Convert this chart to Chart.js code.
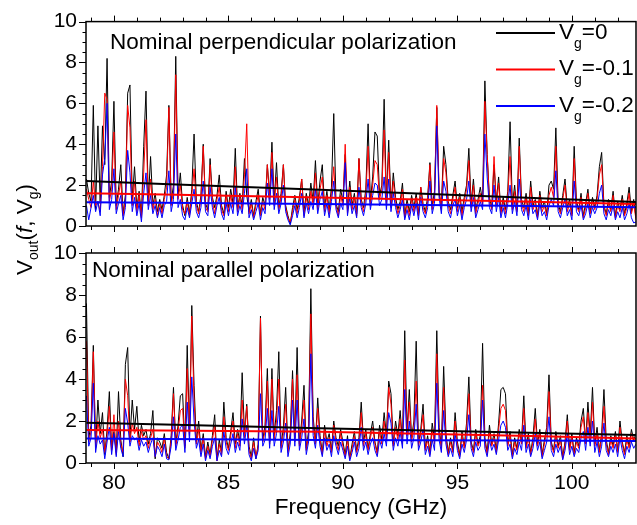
<!DOCTYPE html>
<html>
<head>
<meta charset="utf-8">
<script src="https://cdn.jsdelivr.net/npm/chart.js@4.4.1/dist/chart.umd.min.js"></script>
<style>
html, body { margin: 0; padding: 0; background: #fff; }
#wrap { position: relative; width: 637px; height: 525px; }
#wrap canvas { position: absolute; left: 0; top: 0; }
</style>
</head>
<body>
<div id="wrap">
  <canvas id="topChart" width="637" height="525"></canvas>
  <canvas id="bottomChart" width="637" height="525"></canvas>
</div>
<script>
var FONT = '"Liberation Sans", Arial, sans-serif';

var xTicks = [80, 85, 90, 95, 100];
var yTicks = [0, 2, 4, 6, 8, 10];
var gateVoltages = ["0", "-0.1", "-0.2"];
var seriesColors = ["#000000", "#ff0000", "#0000ff"];
var panelTitles = ["Nominal perpendicular polarization", "Nominal parallel polarization"];

// frequency sweep (GHz), one row per GHz
var freqs = [
  78.8, 78.9,
  79.0, 79.1, 79.2, 79.3, 79.4, 79.5, 79.6, 79.7, 79.8, 79.9,
  80.0, 80.1, 80.2, 80.3, 80.4, 80.5, 80.6, 80.7, 80.8, 80.9,
  81.0, 81.1, 81.2, 81.3, 81.4, 81.5, 81.6, 81.7, 81.8, 81.9,
  82.0, 82.1, 82.2, 82.3, 82.4, 82.5, 82.6, 82.7, 82.8, 82.9,
  83.0, 83.1, 83.2, 83.3, 83.4, 83.5, 83.6, 83.7, 83.8, 83.9,
  84.0, 84.1, 84.2, 84.3, 84.4, 84.5, 84.6, 84.7, 84.8, 84.9,
  85.0, 85.1, 85.2, 85.3, 85.4, 85.5, 85.6, 85.7, 85.8, 85.9,
  86.0, 86.1, 86.2, 86.3, 86.4, 86.5, 86.6, 86.7, 86.8, 86.9,
  87.0, 87.1, 87.2, 87.3, 87.4, 87.5, 87.6, 87.7, 87.8, 87.9,
  88.0, 88.1, 88.2, 88.3, 88.4, 88.5, 88.6, 88.7, 88.8, 88.9,
  89.0, 89.1, 89.2, 89.3, 89.4, 89.5, 89.6, 89.7, 89.8, 89.9,
  90.0, 90.1, 90.2, 90.3, 90.4, 90.5, 90.6, 90.7, 90.8, 90.9,
  91.0, 91.1, 91.2, 91.3, 91.4, 91.5, 91.6, 91.7, 91.8, 91.9,
  92.0, 92.1, 92.2, 92.3, 92.4, 92.5, 92.6, 92.7, 92.8, 92.9,
  93.0, 93.1, 93.2, 93.3, 93.4, 93.5, 93.6, 93.7, 93.8, 93.9,
  94.0, 94.1, 94.2, 94.3, 94.4, 94.5, 94.6, 94.7, 94.8, 94.9,
  95.0, 95.1, 95.2, 95.3, 95.4, 95.5, 95.6, 95.7, 95.8, 95.9,
  96.0, 96.1, 96.2, 96.3, 96.4, 96.5, 96.6, 96.7, 96.8, 96.9,
  97.0, 97.1, 97.2, 97.3, 97.4, 97.5, 97.6, 97.7, 97.8, 97.9,
  98.0, 98.1, 98.2, 98.3, 98.4, 98.5, 98.6, 98.7, 98.8, 98.9,
  99.0, 99.1, 99.2, 99.3, 99.4, 99.5, 99.6, 99.7, 99.8, 99.9,
  100.0, 100.1, 100.2, 100.3, 100.4, 100.5, 100.6, 100.7, 100.8, 100.9,
  101.0, 101.1, 101.2, 101.3, 101.4, 101.5, 101.6, 101.7, 101.8, 101.9,
  102.0, 102.1, 102.2, 102.3, 102.4, 102.5, 102.6, 102.7, 102.8
];

// perpendicular polarization
var perpVg0 = [
  2.3, 1.6,
  1.2, 5.9, 0.8, 4.9, 1.1, 4.9, 3.0, 8.2, 1.4, 2.2,
  6.1, 1.0, 1.8, 3.0, 0.6, 1.5, 6.5, 6.9, 1.3, 2.9,
  0.9, 1.7, 0.5, 3.9, 6.6, 1.2, 3.4, 1.0, 1.6, 0.7,
  1.3, 0.8, 1.5, 2.5, 5.9, 1.2, 2.0, 8.3, 1.5, 2.6,
  1.0, 0.5, 1.4, 0.6, 1.8, 4.5, 1.2, 0.7, 1.5, 4.0,
  1.1, 0.8, 3.3, 1.4, 0.9, 1.5, 2.5, 1.0, 0.6, 1.7,
  0.9, 1.8, 1.1, 3.8, 0.8, 1.6, 1.0, 3.3, 1.5, 0.7,
  1.3, 0.5, 1.2, 1.8, 0.6, 1.4, 1.0, 3.0, 1.5, 4.1,
  1.2, 3.1, 0.9, 1.6, 3.0, 1.0, 0.5, 0.1, 0.9, 1.5,
  0.8, 1.4, 2.3, 0.7, 1.6, 1.0, 2.1, 1.2, 3.2, 1.0,
  2.2, 3.0, 0.9, 1.7, 0.8, 1.9, 5.5, 1.1, 0.7, 1.8,
  1.2, 3.5, 0.8, 2.2, 1.0, 1.6, 0.6, 3.3, 1.3, 0.9,
  1.8, 5.0, 1.2, 2.4, 4.6, 4.4, 1.5, 2.0, 6.2, 1.3,
  4.2, 1.0, 2.6, 1.4, 0.8, 1.2, 2.1, 0.5, 1.3, 0.7,
  1.5, 0.9, 1.6, 0.6, 1.9, 1.1, 0.7, 1.4, 3.1, 1.0,
  1.7, 5.8, 1.6, 1.0, 3.9, 3.0, 1.2, 0.8, 1.5, 2.2,
  0.9, 1.6, 0.7, 1.4, 2.0, 3.8, 1.1, 2.3, 0.8, 1.3,
  1.9, 1.2, 7.1, 3.5, 1.4, 0.9, 3.0, 1.2, 2.4, 0.7,
  1.4, 0.8, 1.7, 5.1, 1.0, 2.0, 0.8, 4.3, 1.3, 0.9,
  1.6, 0.6, 2.2, 1.0, 1.3, 0.5, 1.7, 0.9, 1.2, 0.6,
  2.0, 2.2, 1.8, 4.8, 1.1, 0.7, 1.5, 2.3, 0.9, 1.3,
  0.6, 3.9, 1.2, 0.8, 1.6, 0.5, 1.1, 1.8, 0.7, 1.4,
  0.9, 1.5, 2.9, 3.6, 1.0, 0.6, 1.3, 0.8, 1.7, 0.5,
  1.2, 0.8, 1.5, 0.6, 1.1, 1.9, 0.7, 1.3, 0.4
];
var perpVg01 = [
  1.8, 1.3,
  0.9, 2.2, 1.0, 1.2, 0.7, 2.9, 6.5, 6.2, 1.2, 1.8,
  4.6, 0.8, 1.5, 2.2, 0.5, 1.2, 5.9, 4.8, 1.0, 2.2,
  0.7, 1.5, 0.4, 2.6, 5.2, 1.0, 2.3, 0.8, 1.3, 0.5,
  1.1, 0.6, 1.3, 1.9, 5.8, 1.0, 1.7, 7.4, 1.3, 2.0,
  0.8, 0.6, 1.2, 0.5, 1.5, 2.8, 1.0, 0.6, 1.3, 3.9,
  0.9, 0.7, 3.0, 1.2, 0.6, 1.3, 1.9, 0.8, 0.5, 1.5,
  0.7, 1.5, 0.9, 2.9, 0.7, 1.4, 0.8, 2.5, 5.0, 0.6,
  1.1, 0.4, 1.0, 1.5, 0.5, 1.2, 0.8, 3.0, 1.3, 3.6,
  1.0, 2.4, 0.8, 1.4, 3.0, 0.9, 0.4, 0.2, 0.7, 1.3,
  0.6, 1.2, 2.3, 0.5, 1.4, 0.8, 1.7, 1.0, 2.6, 0.8,
  1.8, 2.4, 0.7, 1.5, 0.6, 1.6, 2.9, 1.0, 0.5, 1.5,
  1.0, 4.0, 0.6, 1.9, 0.8, 1.4, 0.5, 3.3, 1.1, 0.7,
  1.5, 3.9, 1.0, 2.0, 3.2, 3.0, 1.3, 1.8, 4.7, 1.1,
  3.6, 0.9, 2.2, 1.2, 0.6, 1.0, 1.8, 0.4, 1.1, 0.5,
  1.3, 0.7, 1.4, 0.5, 1.9, 0.9, 0.6, 1.2, 3.0, 0.8,
  1.5, 5.9, 1.8, 0.8, 3.3, 2.6, 1.0, 0.6, 1.3, 1.9,
  0.7, 1.4, 0.5, 1.2, 1.8, 3.2, 0.9, 2.0, 0.6, 1.1,
  1.6, 1.0, 6.1, 3.5, 1.2, 0.8, 3.4, 1.0, 2.1, 0.6,
  1.2, 0.6, 1.5, 3.4, 0.8, 1.7, 0.7, 3.9, 1.1, 0.7,
  1.4, 0.5, 1.9, 0.8, 1.1, 0.4, 1.5, 0.7, 1.0, 0.5,
  1.5, 1.9, 1.4, 3.9, 0.9, 0.6, 1.3, 2.0, 0.7, 1.1,
  0.5, 3.3, 1.0, 0.7, 1.4, 0.4, 0.9, 1.6, 0.6, 1.2,
  0.8, 1.3, 2.5, 3.0, 0.9, 0.5, 1.1, 0.7, 1.5, 0.4,
  1.0, 0.7, 1.3, 0.5, 0.9, 1.6, 0.6, 1.1, 0.3
];
var perpVg02 = [
  1.0, 0.3,
  0.9, 1.5, 0.7, 1.2, 0.5, 2.5, 3.3, 6.0, 0.8, 1.3,
  2.8, 0.6, 1.1, 1.5, 0.3, 0.9, 3.7, 2.6, 0.7, 1.4,
  0.5, 1.1, 0.2, 1.6, 2.6, 0.8, 1.5, 0.6, 1.0, 0.4,
  0.9, 0.4, 1.0, 1.2, 2.7, 0.7, 1.3, 4.5, 0.9, 1.3,
  0.5, 0.3, 0.9, 0.4, 1.1, 1.8, 0.7, 0.4, 0.9, 2.2,
  0.7, 0.5, 1.9, 0.9, 0.4, 1.0, 1.4, 0.6, 0.3, 1.1,
  0.5, 1.1, 0.6, 1.9, 0.5, 1.0, 0.6, 1.6, 2.8, 0.4,
  0.8, 0.3, 0.7, 1.1, 0.3, 0.9, 0.6, 2.1, 1.0, 2.8,
  0.8, 1.6, 0.6, 1.1, 2.0, 0.7, 0.3, 0.05, 0.5, 1.0,
  0.4, 0.9, 1.6, 0.4, 1.1, 0.6, 1.2, 0.8, 1.8, 0.6,
  1.3, 1.7, 0.5, 1.1, 0.4, 1.2, 2.2, 0.8, 0.4, 1.1,
  0.8, 3.1, 0.5, 1.4, 0.6, 1.0, 0.4, 1.9, 0.9, 0.5,
  1.1, 2.3, 0.8, 1.5, 2.1, 2.0, 1.0, 1.3, 2.4, 0.8,
  2.3, 0.7, 1.6, 0.9, 0.4, 0.8, 1.3, 0.3, 0.8, 0.3,
  1.0, 0.5, 1.1, 0.3, 1.4, 0.7, 0.4, 0.9, 2.2, 0.6,
  1.1, 4.9, 1.4, 0.6, 2.2, 1.7, 0.7, 0.4, 1.0, 1.3,
  0.5, 1.0, 0.3, 0.9, 1.3, 2.2, 0.7, 1.4, 0.4, 0.8,
  1.2, 0.8, 4.5, 2.4, 0.9, 0.6, 2.0, 0.7, 1.4, 0.4,
  0.9, 0.4, 1.1, 2.0, 0.6, 1.2, 0.5, 2.3, 0.8, 0.5,
  1.0, 0.3, 1.3, 0.6, 0.8, 0.3, 1.1, 0.5, 0.7, 0.3,
  1.0, 1.3, 1.0, 2.7, 0.7, 0.4, 0.9, 1.3, 0.5, 0.8,
  0.3, 2.2, 0.7, 0.5, 1.0, 0.3, 0.6, 1.1, 0.4, 0.9,
  0.6, 0.9, 1.6, 2.0, 0.6, 0.3, 0.8, 0.5, 1.0, 0.3,
  0.7, 0.4, 0.9, 0.3, 0.6, 1.1, 0.4, 0.15, 0.2
];

// parallel polarization
var paraVg0 = [
  7.6, 1.2,
  1.8, 5.6, 0.8, 3.0, 1.4, 2.4, 0.4, 1.6, 3.4, 0.7,
  1.5, 0.5, 3.4, 1.1, 0.3, 4.7, 5.5, 1.2, 3.0, 1.6,
  2.7, 1.0, 1.8, 1.3, 1.6, 0.9, 1.4, 2.5, 0.2, 1.2,
  1.0, 0.7, 1.4, 0.5, 0.2, 1.3, 3.6, 0.9, 1.8, 3.2,
  3.3, 0.8, 5.6, 1.5, 7.5, 3.7, 1.0, 2.0, 0.6, 1.4,
  0.3, 1.0, 0.4, 1.3, 2.3, 0.2, 1.1, 0.5, 2.9, 1.2,
  0.7, 1.5, 2.4, 0.9, 1.6, 1.0, 4.3, 1.4, 2.8, 0.8,
  0.3, 1.2, 0.2, 0.9, 7.0, 1.1, 1.8, 4.5, 1.0, 4.5,
  1.3, 2.5, 5.3, 0.8, 1.7, 3.6, 0.6, 1.4, 4.4, 1.2,
  5.5, 0.9, 2.0, 3.7, 0.7, 1.5, 8.3, 2.2, 1.0, 3.1,
  1.3, 0.5, 1.8, 1.0, 1.4, 0.6, 2.0, 1.2, 0.8, 1.6,
  1.0, 0.4, 1.3, 0.2, 0.9, 1.5, 0.6, 1.2, 2.9, 1.0,
  1.6, 0.7, 1.4, 2.0, 1.0, 0.5, 1.8, 1.1, 2.4, 1.3,
  3.9, 3.3, 0.9, 2.0, 1.3, 2.5, 1.0, 6.3, 1.5, 3.5,
  1.2, 2.0, 5.8, 0.9, 1.6, 2.8, 0.7, 1.3, 0.5, 1.9,
  1.1, 6.3, 1.7, 0.8, 4.6, 1.4, 0.5, 1.2, 0.6, 2.4,
  1.0, 0.4, 1.5, 0.8, 1.9, 4.1, 1.0, 0.6, 1.6, 0.9,
  1.3, 5.7, 1.2, 0.5, 1.8, 0.9, 1.4, 0.6, 1.9, 3.5,
  3.6, 3.3, 0.9, 1.5, 0.4, 1.2, 0.7, 1.6, 1.0, 3.2,
  0.8, 1.4, 0.5, 1.2, 2.6, 0.9, 1.6, 0.4, 1.1, 1.7,
  4.2, 1.0, 0.6, 1.5, 0.8, 1.3, 0.3, 1.0, 2.3, 0.7,
  1.4, 0.5, 1.2, 0.8, 2.0, 2.6, 1.0, 2.9, 1.3, 3.6,
  0.9, 1.7, 0.6, 1.4, 3.5, 1.1, 0.5, 1.3, 0.8, 1.5,
  0.6, 2.0, 1.0, 0.5, 1.3, 0.8, 1.6, 1.1, 1.4
];
var paraVg01 = [
  5.8, 1.0,
  1.5, 5.3, 0.7, 2.0, 1.2, 1.6, 0.5, 1.3, 2.7, 0.6,
  2.3, 0.4, 2.0, 0.9, 0.5, 4.0, 3.2, 1.0, 1.9, 1.4,
  1.7, 0.8, 1.5, 1.1, 1.3, 0.7, 1.2, 1.6, 0.3, 1.0,
  0.8, 0.5, 1.2, 0.3, 0.2, 1.1, 3.3, 0.8, 1.5, 2.5,
  2.6, 0.7, 4.5, 1.3, 7.0, 2.9, 0.9, 1.6, 0.5, 1.2,
  0.2, 0.8, 0.3, 1.1, 1.8, 0.1, 0.9, 0.4, 2.2, 1.0,
  0.6, 1.3, 2.0, 0.7, 1.4, 0.8, 3.0, 1.2, 2.7, 0.6,
  0.2, 1.0, 0.3, 0.8, 6.9, 1.0, 1.5, 3.9, 0.9, 4.0,
  1.1, 2.0, 4.0, 0.7, 1.4, 2.8, 0.5, 1.2, 4.0, 1.0,
  4.2, 0.8, 1.7, 3.0, 0.6, 1.3, 7.1, 1.8, 0.9, 2.6,
  1.1, 0.4, 1.6, 0.8, 1.2, 0.5, 1.8, 1.0, 0.6, 1.4,
  0.8, 0.3, 1.1, 0.2, 0.7, 1.3, 0.5, 1.0, 2.4, 0.8,
  1.4, 0.6, 1.2, 1.7, 0.9, 0.4, 1.5, 0.9, 2.0, 1.1,
  3.6, 2.8, 0.8, 1.7, 1.1, 2.1, 0.9, 4.9, 1.3, 2.9,
  1.0, 1.7, 3.9, 0.8, 1.4, 2.3, 0.6, 1.1, 0.4, 1.6,
  0.9, 5.2, 1.5, 0.7, 3.6, 1.2, 0.4, 1.0, 0.5, 2.0,
  0.8, 0.3, 1.3, 0.7, 1.6, 3.3, 0.9, 0.5, 1.4, 0.8,
  1.1, 3.7, 1.0, 0.4, 1.5, 0.8, 1.2, 0.5, 1.6, 2.6,
  2.8, 2.5, 0.8, 1.3, 0.3, 1.0, 0.6, 1.4, 0.9, 2.6,
  0.7, 1.2, 0.4, 1.0, 2.1, 0.8, 1.4, 0.3, 0.9, 1.5,
  3.4, 0.9, 0.5, 1.3, 0.7, 1.1, 0.2, 0.9, 2.0, 0.6,
  1.2, 0.4, 1.0, 0.7, 1.7, 2.2, 0.9, 2.4, 1.1, 2.9,
  0.8, 1.4, 0.5, 1.2, 2.7, 0.9, 0.4, 1.1, 0.7, 1.3,
  0.5, 1.7, 0.9, 0.4, 1.1, 0.7, 1.4, 1.0, 1.2
];
var paraVg02 = [
  3.2, 0.8,
  1.2, 3.8, 0.5, 1.3, 0.9, 1.1, 0.2, 1.0, 1.7, 0.4,
  1.4, 0.3, 1.5, 0.7, 0.3, 2.6, 1.9, 0.8, 1.3, 1.1,
  1.2, 0.6, 1.1, 0.8, 1.0, 0.5, 0.9, 1.2, 0.3, 0.8,
  0.6, 0.3, 0.9, 0.2, 0.15, 0.8, 2.2, 0.6, 1.1, 1.7,
  1.8, 0.5, 2.9, 1.0, 4.1, 2.0, 0.7, 1.1, 0.3, 0.9,
  0.1, 0.6, 0.2, 0.8, 1.2, 0.1, 0.6, 0.3, 1.5, 0.7,
  0.4, 0.9, 1.4, 0.5, 1.0, 0.6, 2.1, 0.9, 1.8, 0.4,
  0.1, 0.7, 0.2, 0.6, 3.3, 0.8, 1.1, 2.6, 0.7, 2.5,
  0.8, 1.4, 2.7, 0.5, 1.0, 1.9, 0.3, 0.9, 3.0, 0.8,
  3.0, 0.6, 1.2, 2.1, 0.4, 1.0, 5.2, 1.3, 0.7, 1.8,
  0.8, 0.3, 1.2, 0.6, 0.9, 0.3, 1.3, 0.8, 0.4, 1.0,
  0.6, 0.2, 0.8, 0.1, 0.5, 1.0, 0.3, 0.7, 1.7, 0.6,
  1.0, 0.4, 0.9, 1.2, 0.6, 0.3, 1.1, 0.7, 1.4, 0.8,
  2.4, 1.9, 0.6, 1.2, 0.8, 1.5, 0.7, 3.5, 0.9, 2.0,
  0.7, 1.2, 2.8, 0.6, 1.0, 1.6, 0.4, 0.8, 0.3, 1.1,
  0.6, 3.8, 1.1, 0.5, 2.5, 0.9, 0.3, 0.7, 0.3, 1.4,
  0.6, 0.2, 0.9, 0.5, 1.1, 2.3, 0.7, 0.3, 1.0, 0.6,
  0.8, 3.0, 0.7, 0.3, 1.1, 0.6, 0.9, 0.4, 1.1, 1.8,
  2.0, 1.7, 0.6, 0.9, 0.2, 0.7, 0.4, 1.0, 0.6, 1.8,
  0.5, 0.9, 0.3, 0.7, 1.4, 0.6, 1.0, 0.2, 0.6, 1.0,
  2.2, 0.6, 0.3, 0.9, 0.5, 0.8, 0.15, 0.6, 1.4, 0.4,
  0.8, 0.3, 0.7, 0.5, 1.2, 1.5, 0.6, 1.7, 0.8, 2.0,
  0.5, 1.0, 0.3, 0.8, 1.9, 0.6, 0.3, 0.8, 0.5, 0.9,
  0.3, 1.2, 0.6, 0.2, 0.8, 0.5, 1.0, 0.7, 0.9
];

// fitted background curves
var fitFreqs = [78.8, 89.0, 102.8];
var perpFitVg0 = [2.2, 1.77, 1.18];
var perpFitVg01 = [1.6, 1.4, 1.08];
var perpFitVg02 = [1.16, 1.08, 0.92];
var paraFitVg0 = [1.92, 1.65, 1.33];
var paraFitVg01 = [1.57, 1.49, 1.17];
var paraFitVg02 = [1.17, 1.1, 1.05];

function toPoints(xs, ys) {
  return xs.map(function (x, i) { return { x: x, y: ys[i] }; });
}

function buildDatasets(spectra, fits) {
  var ds = [];
  fits.forEach(function (ys, i) {
    ds.push({
      data: toPoints(fitFreqs, ys),
      borderColor: seriesColors[i],
      borderWidth: 2,
      cubicInterpolationMode: "monotone",
      pointRadius: 0,
      order: 0,
    });
  });
  spectra.forEach(function (ys, i) {
    ds.push({
      data: toPoints(freqs, ys),
      borderColor: seriesColors[i],
      borderWidth: 1,
      pointRadius: 0,
      tension: 0,
      order: 3 - i, // black at the back, blue in front
    });
  });
  return ds;
}

// box and tick marks around each panel
var framePlugin = {
  id: "frame",
  afterDatasetsDraw: function (chart) {
    var a = chart.chartArea, ctx = chart.ctx;
    var xs = chart.scales.x, ys = chart.scales.y;
    ctx.save();
    ctx.strokeStyle = "#000";
    ctx.lineWidth = 1.5;
    ctx.strokeRect(a.left, a.top, a.right - a.left, a.bottom - a.top);
    ctx.lineWidth = 1;
    ctx.beginPath();
    for (var f = Math.ceil(xs.min); f <= xs.max; f++) {
      var px = Math.round(xs.getPixelForValue(f)) + 0.5;
      var len = f % 5 === 0 ? 6 : 4;
      ctx.moveTo(px, a.top);
      ctx.lineTo(px, a.top - len);
      ctx.moveTo(px, a.bottom);
      ctx.lineTo(px, a.bottom + len);
    }
    for (var v = 0; v <= 10; v += 0.5) {
      var py = Math.round(ys.getPixelForValue(v)) + 0.5;
      var l = v % 2 === 0 ? 7 : 3.5;
      ctx.moveTo(a.left, py);
      ctx.lineTo(a.left - l, py);
    }
    ctx.stroke();
    ctx.restore();
  },
};

function drawRuns(ctx, runs, x, y) {
  runs.forEach(function (r) {
    ctx.font = r.font;
    ctx.fillText(r.text, x, y + (r.dy || 0));
    x += ctx.measureText(r.text).width;
  });
}

var MAIN = "22.5px " + FONT;
var SUB = "14px " + FONT;

function titlePlugin(idx, dx, dy) {
  return {
    id: "panelTitle" + idx,
    afterDraw: function (chart) {
      var ctx = chart.ctx, a = chart.chartArea;
      ctx.save();
      ctx.fillStyle = "#000";
      ctx.font = MAIN;
      ctx.textBaseline = "alphabetic";
      ctx.fillText(panelTitles[idx], a.left + dx, a.top + dy);
      ctx.restore();
    },
  };
}

var legendPlugin = {
  id: "gateLegend",
  afterDraw: function (chart) {
    var ctx = chart.ctx;
    ctx.save();
    ctx.textBaseline = "alphabetic";
    gateVoltages.forEach(function (vg, i) {
      var y = 33 + i * 36.5;
      ctx.strokeStyle = seriesColors[i];
      ctx.lineWidth = 2;
      ctx.beginPath();
      ctx.moveTo(496, y);
      ctx.lineTo(555, y);
      ctx.stroke();
      ctx.fillStyle = "#000";
      drawRuns(ctx, [
        { text: "V", font: MAIN },
        { text: "g", font: SUB, dy: 9 },
        { text: "=" + vg, font: MAIN },
      ], 559, y + 5.5);
    });
    ctx.restore();
  },
};

var yTitlePlugin = {
  id: "yTitle",
  afterDraw: function (chart) {
    var ctx = chart.ctx;
    ctx.save();
    ctx.translate(32, 275);
    ctx.rotate(-Math.PI / 2);
    ctx.fillStyle = "#000";
    ctx.textBaseline = "alphabetic";
    drawRuns(ctx, [
      { text: "V", font: MAIN },
      { text: "out", font: SUB, dy: 6 },
      { text: "(", font: MAIN },
      { text: "f", font: "italic " + MAIN },
      { text: ", V", font: MAIN },
      { text: "g", font: SUB, dy: 6 },
      { text: ")", font: MAIN },
    ], 0, 0);
    ctx.restore();
  },
};

function yScale() {
  return {
    min: 0,
    max: 10,
    afterBuildTicks: function (s) { s.ticks = yTicks.map(function (v) { return { value: v }; }); },
    ticks: { font: { size: 21, family: FONT }, color: "#000", padding: 9 },
    grid: { display: false, drawTicks: false },
    border: { display: false },
    afterFit: function (s) { s.width = 86; },
  };
}

function xScale(showLabels) {
  return {
    type: "linear",
    min: 78.78,
    max: 102.8,
    display: showLabels,
    afterBuildTicks: function (s) { s.ticks = xTicks.map(function (v) { return { value: v }; }); },
    ticks: { font: { size: 21, family: FONT }, color: "#000", padding: 8, maxRotation: 0, autoSkip: false },
    grid: { display: false, drawTicks: false },
    border: { display: false },
    title: {
      display: true,
      text: "Frequency (GHz)",
      font: { size: 22.5, family: FONT },
      color: "#000",
      padding: { top: 0, bottom: 4 },
    },
    afterFit: function (s) { s.height = showLabels ? 62 : 0; },
  };
}

function baseOptions(padding, showX) {
  return {
    responsive: false,
    animation: false,
    events: [],
    layout: { padding: padding },
    plugins: { legend: { display: false }, tooltip: { enabled: false } },
    scales: { x: xScale(showX), y: yScale() },
  };
}

new Chart(document.getElementById("topChart").getContext("2d"), {
  type: "line",
  data: { datasets: buildDatasets([perpVg0, perpVg01, perpVg02], [perpFitVg0, perpFitVg01, perpFitVg02]) },
  options: baseOptions({ top: 16, bottom: 299, left: 0, right: 1 }, false),
  plugins: [framePlugin, titlePlugin(0, 24, 27), legendPlugin],
});

new Chart(document.getElementById("bottomChart").getContext("2d"), {
  type: "line",
  data: { datasets: buildDatasets([paraVg0, paraVg01, paraVg02], [paraFitVg0, paraFitVg01, paraFitVg02]) },
  options: baseOptions({ top: 253, bottom: 0, left: 0, right: 1 }, true),
  plugins: [framePlugin, titlePlugin(1, 6, 24), yTitlePlugin],
});
</script>
</body>
</html>
